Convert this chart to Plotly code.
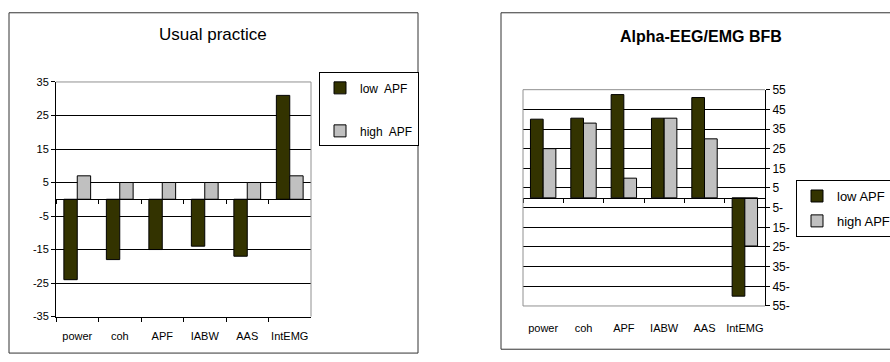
import plotly.graph_objects as go

categories = ["power", "coh", "APF", "IABW", "AAS", "IntEMG"]

# Panel 1: Usual practice
usual_low = [-24, -18, -15, -14, -17, 31]
usual_high = [7, 5, 5, 5, 5, 7]

# Panel 2: Alpha-EEG/EMG BFB
bfb_low = [40, 40.5, 52.5, 40.5, 51, -50]
bfb_high = [25, 38, 10, 40.5, 30, -24.5]

usual_ticks = [-35, -25, -15, -5, 5, 15, 25, 35]
usual_ticktext = ["-35", "-25", "-15", "-5", "5", "15", "25", "35"]
bfb_ticks = [-55, -45, -35, -25, -15, -5, 5, 15, 25, 35, 45, 55]
bfb_ticktext = ["55-", "45-", "35-", "25-", "15-", "5-", "5", "15", "25", "35", "45", "55"]

DARK = "#333300"
LIGHT = "#c0c0c0"
# the original picture is a crop of a wider page: the right chart runs past the 890 px edge
W, H = 930, 362

def px_x(v):
    return v / W

def px_y(v):
    return 1 - v / H

# plot area domains (pixels)
p1 = dict(l=56, r=311, t=78, b=322)
p2 = dict(l=523, r=765, t=86, b=311)

d1x = [px_x(p1["l"]), px_x(p1["r"])]
d1y = [px_y(p1["b"]), px_y(p1["t"])]
d2x = [px_x(p2["l"]), px_x(p2["r"])]
d2y = [px_y(p2["b"]), px_y(p2["t"])]

zero1 = d1y[0] + (0 - usual_ticks[0]) / (usual_ticks[-1] - usual_ticks[0]) * (d1y[1] - d1y[0])
zero2 = d2y[0] + (0 - bfb_ticks[0]) / (bfb_ticks[-1] - bfb_ticks[0]) * (d2y[1] - d2y[0])

fig = go.Figure()

fig.add_trace(go.Bar(x=categories, y=usual_low, name="low  APF", marker=dict(color=DARK, line=dict(color="black", width=1)),
                     xaxis="x", yaxis="y", legend="legend", legendgroup="a"))
fig.add_trace(go.Bar(x=categories, y=usual_high, name="high  APF", marker=dict(color=LIGHT, line=dict(color="black", width=1)),
                     xaxis="x", yaxis="y", legend="legend", legendgroup="b"))
fig.add_trace(go.Bar(x=categories, y=bfb_low, name="low APF", marker=dict(color=DARK, line=dict(color="black", width=1)),
                     xaxis="x2", yaxis="y2", legend="legend2", legendgroup="c"))
fig.add_trace(go.Bar(x=categories, y=bfb_high, name="high APF", marker=dict(color=LIGHT, line=dict(color="black", width=1)),
                     xaxis="x2", yaxis="y2", legend="legend2", legendgroup="d"))

# invisible helper traces for the zero-line category axes
fig.add_trace(go.Scatter(x=categories, y=[0] * len(categories), mode="markers", marker=dict(opacity=0),
                         showlegend=False, hoverinfo="skip", xaxis="x3", yaxis="y"))
fig.add_trace(go.Scatter(x=categories, y=[0] * len(categories), mode="markers", marker=dict(opacity=0),
                         showlegend=False, hoverinfo="skip", xaxis="x4", yaxis="y2"))

font_main = "Liberation Sans, Arial, sans-serif"

common_x = dict(type="category", range=[-0.5, len(categories) - 0.5], showgrid=False, zeroline=False,
                fixedrange=True)

fig.update_layout(
    width=W, height=H, autosize=False, margin=dict(l=0, r=0, t=0, b=0),
    paper_bgcolor="white", plot_bgcolor="white",
    barmode="group", bargap=0.37, bargroupgap=0,
    font=dict(family=font_main, color="black", size=12),
    xaxis=dict(domain=d1x, anchor="y", tickson="boundaries", ticks="outside", ticklen=4, tickcolor="black",
               showline=True, linecolor="black", linewidth=1, tickangle=0, ticklabelstandoff=9,
               tickfont=dict(size=11, family=font_main), **common_x),
    yaxis=dict(domain=d1y, anchor="x", range=[usual_ticks[0], usual_ticks[-1]], tickvals=usual_ticks,
               ticktext=usual_ticktext, fixedrange=True,
               ticks="outside", ticklen=4, tickcolor="black", showline=True, linecolor="black",
               showgrid=True, gridcolor="black", gridwidth=1, zeroline=False,
               tickfont=dict(size=11, family=font_main)),
    xaxis3=dict(overlaying="x", anchor="free", position=zero1, tickson="boundaries", ticks="outside",
                ticklen=4, tickcolor="black", showline=True, linecolor="black", linewidth=1,
                showticklabels=False, **common_x),
    xaxis2=dict(domain=d2x, anchor="y2", ticks="outside", ticklen=12, tickcolor="rgba(0,0,0,0)",
                showline=False, tickangle=0, tickfont=dict(size=11, family=font_main), **common_x),
    yaxis2=dict(domain=d2y, anchor="x2", side="right", range=[bfb_ticks[0], bfb_ticks[-1]],
                tickvals=bfb_ticks, ticktext=bfb_ticktext, ticks="outside", ticklen=4, tickcolor="black",
                showline=True, linecolor="black", showgrid=True, gridcolor="black", gridwidth=1,
                zeroline=False, fixedrange=True, tickfont=dict(size=12, family=font_main)),
    xaxis4=dict(overlaying="x2", anchor="free", position=zero2, tickson="boundaries", ticks="outside",
                ticklen=4, tickcolor="black", showline=True, linecolor="black", linewidth=1,
                showticklabels=False, **common_x),
    legend=dict(x=px_x(319), y=px_y(68), xanchor="left", yanchor="top", bordercolor="black", borderwidth=1,
                bgcolor="white", font=dict(size=12, family=font_main), tracegroupgap=24, itemwidth=30),
    legend2=dict(x=px_x(796), y=px_y(180), xanchor="left", yanchor="top", bordercolor="black", borderwidth=1,
                 bgcolor="white", font=dict(size=13, family=font_main), tracegroupgap=5, itemwidth=30),
    showlegend=True,
)

shapes = [
    # outer chart boxes
    dict(type="rect", xref="paper", yref="paper", x0=px_x(9), x1=px_x(418), y0=px_y(360), y1=px_y(6),
         line=dict(color="#333333", width=1), layer="below"),
    dict(type="rect", xref="paper", yref="paper", x0=px_x(501), x1=px_x(925), y0=px_y(356), y1=px_y(6),
         line=dict(color="#333333", width=1), layer="below"),
    # gray plot-area borders
    dict(type="line", xref="x domain", yref="y domain", x0=0, x1=1, y0=1, y1=1,
         line=dict(color="#909090", width=1), layer="above"),
    dict(type="line", xref="x domain", yref="y domain", x0=1, x1=1, y0=0, y1=1,
         line=dict(color="#909090", width=1), layer="above"),
    dict(type="line", xref="x2 domain", yref="y2 domain", x0=0, x1=1, y0=1, y1=1,
         line=dict(color="#909090", width=1), layer="above"),
    dict(type="line", xref="x2 domain", yref="y2 domain", x0=0, x1=1, y0=0, y1=0,
         line=dict(color="#909090", width=1), layer="above"),
    dict(type="line", xref="x2 domain", yref="y2 domain", x0=0, x1=0, y0=0, y1=1,
         line=dict(color="#909090", width=1), layer="above"),
]
fig.update_layout(shapes=shapes)

fig.add_annotation(text="Usual practice", xref="paper", yref="paper", x=px_x(213), y=px_y(29),
                   xanchor="center", yanchor="middle",
                   showarrow=False, font=dict(size=17, family=font_main, color="black"))
fig.add_annotation(text="<b>Alpha-EEG/EMG BFB</b>", xref="paper", yref="paper", x=px_x(701), y=px_y(31),
                   xanchor="center", yanchor="middle",
                   showarrow=False, font=dict(size=16, family=font_main, color="black"))

fig.write_html("out.html", config={"displayModeBar": False},
               post_script="document.body.style.margin='0';document.body.style.overflow='hidden';")
